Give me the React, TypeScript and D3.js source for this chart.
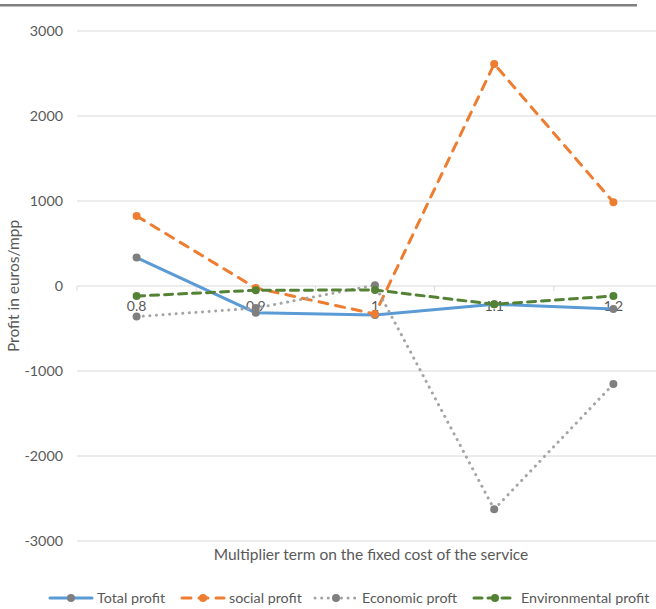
import React from "react";
import * as d3 from "d3";

const categories = ["0.8", "0.9", "1", "1.1", "1.2"];
const totalProfit = [335, -315, -341, -215, -270];
const socialProfit = [824, -24, -330, 2612, 985];
const economicProfit = [-360, -260, 10, -2627, -1153];
const environmentalProfit = [-118, -50, -47, -215, -118];
const yTicks = [-3000, -2000, -1000, 0, 1000, 2000, 3000];

const W = 656;
const H = 609;
const FONT = "Lato, sans-serif";
const TEXT = "#595959";

type Series = {
  name: string;
  values: number[];
  color: string;
  marker: string;
  dash: string;
  cap: "round" | "butt";
};

const series: Series[] = [
  { name: "Total profit", values: totalProfit, color: "#5B9BD5", marker: "#7F7F7F", dash: "none", cap: "round" },
  { name: "social profit", values: socialProfit, color: "#ED7D31", marker: "#ED7D31", dash: "9 8", cap: "round" },
  { name: "Economic proft", values: economicProfit, color: "#A5A5A5", marker: "#7F7F7F", dash: "0.1 6.5", cap: "round" },
  { name: "Environmental profit", values: environmentalProfit, color: "#548235", marker: "#548235", dash: "8 6", cap: "round" },
];

const legendX = [50, 182, 315, 474];

export default function App() {
  const x = d3.scaleBand<string>().domain(categories).range([77, 673]);
  const y = d3.scaleLinear().domain([-3000, 3000]).range([541, 31]);
  const cx = (c: string) => (x(c) as number) + x.bandwidth() / 2;
  const line = d3
    .line<number>()
    .x((_, i) => cx(categories[i]))
    .y((v) => y(v));

  const boundaries = d3.range(categories.length + 1).map((i) => 77 + i * x.step());

  return (
    <svg width={W} height={H} style={{ position: "absolute", left: 0, top: 0, background: "#fff" }}>
      <rect x={0} y={0} width={W} height={H} fill="#fff" />
      <rect x={0} y={4} width={637} height={2.5} fill="#808080" />
      {yTicks.map((t) => (
        <g key={t}>
          <line x1={77} x2={W} y1={y(t)} y2={y(t)} stroke="#D9D9D9" strokeWidth={1} />
          <text x={63} y={y(t) + 5} textAnchor="end" fontFamily={FONT} fontSize={14.3} fill={TEXT}>
            {t}
          </text>
        </g>
      ))}
      {boundaries.map((b, i) => (
        <line key={i} x1={b} x2={b} y1={y(0)} y2={y(0) + 5} stroke="#D9D9D9" strokeWidth={1} />
      ))}
      {categories.map((c) => (
        <text key={c} x={cx(c)} y={y(0) + 25} textAnchor="middle" fontFamily={FONT} fontSize={14} fill={TEXT}>
          {c}
        </text>
      ))}
      {series.map((s) => (
        <g key={s.name}>
          <path
            d={line(s.values) as string}
            fill="none"
            stroke={s.color}
            strokeWidth={3}
            strokeDasharray={s.dash}
            strokeLinecap={s.cap}
            strokeLinejoin="round"
          />
          {s.values.map((v, i) => (
            <circle key={i} cx={cx(categories[i])} cy={y(v)} r={4} fill={s.marker} />
          ))}
        </g>
      ))}
      <text
        transform={`translate(19,${y(0)}) rotate(-90)`}
        textAnchor="middle"
        fontFamily={FONT}
        fontSize={15.5}
        fill={TEXT}
      >
        Profit in euros/mpp
      </text>
      <text x={371} y={560} textAnchor="middle" fontFamily={FONT} fontSize={15.5} fill={TEXT}>
        Multiplier term on the fixed cost of the service
      </text>
      {series.map((s, i) => {
        const lx = legendX[i];
        return (
          <g key={s.name}>
            <line
              x1={lx}
              x2={lx + 42}
              y1={598}
              y2={598}
              stroke={s.color}
              strokeWidth={3}
              strokeDasharray={s.dash}
              strokeLinecap={s.cap}
            />
            <circle cx={lx + 21} cy={598} r={4} fill={s.marker} />
            <text x={lx + 47} y={603} fontFamily={FONT} fontSize={14.3} fill={TEXT}>
              {s.name}
            </text>
          </g>
        );
      })}
    </svg>
  );
}
